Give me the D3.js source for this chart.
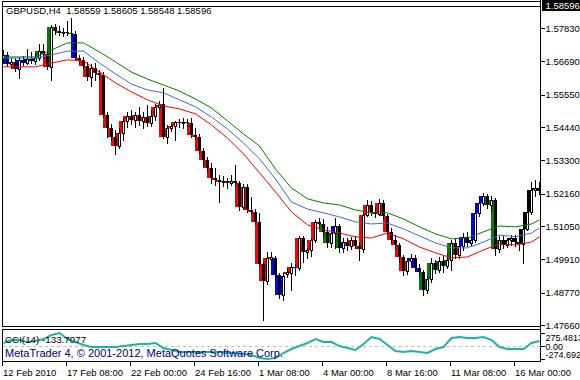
<!DOCTYPE html>
<html>
<head>
<meta charset="utf-8">
<script src="https://cdn.jsdelivr.net/npm/d3@7"></script>
<style>
  body { margin: 0; background: #fff; }
  svg { display: block; }
  text { font-family: "Liberation Sans", Arial, sans-serif; white-space: pre; }
</style>
</head>
<body>
<svg id="chart"></svg>
<script>
// GBPUSD H4 bars, prices in pips (price x 10000), one entry per bar
const opens = [15680,15691,15660,15667,15643,15674,15663,15677,15670,15680,15704,15694,15650,15787,15773,15766,15769,15766,15763,15680,
  15674,15653,15615,15646,15629,15622,15485,15441,15410,15379,15424,15465,15482,15468,15485,15465,15478,15458,15482,15513,
  15523,15410,15441,15448,15461,15458,15461,15458,15417,15410,15362,15331,15304,15270,15263,15256,15259,15252,15259,15252,
  15170,15239,15160,15153,15119,14975,14917,14992,14996,14937,14869,14941,14944,14965,14961,15064,15016,15023,15057,15119,
  15112,15085,15047,15081,15105,15030,15050,15037,15057,15037,15026,15143,15177,15153,15146,15184,15139,15085,15057,15040,
  14999,14951,14985,14996,14961,14948,14886,14924,14978,14954,14985,14968,14989,15047,15006,15037,15068,15047,15057,15150,
  15184,15208,15177,15194,15026,15057,15040,15057,15064,15050,15044,15095,15153,15228,15235];
const highs = [15708,15701,15680,15680,15684,15687,15711,15701,15697,15728,15728,15708,15793,15797,15790,15783,15807,15817,15773,15691,
  15684,15667,15660,15663,15639,15632,15495,15454,15434,15441,15475,15495,15502,15495,15513,15495,15520,15502,15523,15533,
  15578,15451,15454,15465,15471,15475,15471,15475,15441,15420,15372,15341,15321,15304,15280,15276,15270,15280,15314,15259,
  15249,15249,15204,15163,15150,14982,15016,15016,15002,14944,14944,14961,14978,14975,15071,15071,15030,15064,15126,15133,
  15129,15102,15092,15133,15112,15064,15064,15068,15071,15050,15150,15194,15191,15170,15198,15194,15146,15098,15074,15047,
  15006,14996,15009,15006,14975,14954,14934,14996,14989,14999,15002,15009,15057,15064,15047,15081,15085,15071,15167,15204,
  15218,15215,15208,15201,15071,15071,15064,15074,15074,15071,15105,15167,15256,15263,15256];
const lows = [15667,15653,15646,15636,15612,15656,15660,15663,15660,15674,15680,15643,15605,15763,15759,15756,15759,15759,15674,15663,
  15646,15605,15584,15605,15608,15478,15410,15400,15352,15372,15400,15444,15454,15444,15451,15441,15448,15448,15468,15506,
  15406,15389,15430,15400,15444,15441,15448,15410,15403,15355,15311,15290,15252,15246,15187,15242,15235,15246,15242,15160,
  15163,15153,15146,15112,14968,14783,14907,14982,14927,14859,14852,14931,14886,14937,14954,14982,14996,15002,15050,15098,
  15071,15033,15033,15030,15016,15016,15023,15026,15030,14989,15016,15139,15143,15136,15143,15129,15074,15047,15026,14982,
  14937,14941,14975,14954,14934,14869,14876,14913,14944,14948,14948,14961,14954,14996,14996,15023,15037,15037,15050,15139,
  15177,15167,15156,15006,15016,15030,15033,15040,15037,15023,14978,15092,15146,15208,15215];
const closes = [15691,15660,15667,15643,15674,15663,15677,15670,15680,15704,15694,15650,15787,15773,15766,15769,15766,15763,15680,15674,
  15653,15615,15646,15629,15622,15485,15441,15410,15379,15424,15465,15482,15468,15485,15465,15478,15458,15482,15513,15520,
  15410,15441,15448,15461,15458,15461,15458,15417,15410,15362,15331,15304,15270,15263,15256,15259,15252,15259,15252,15170,
  15239,15160,15153,15119,14975,14917,14996,14999,14937,14869,14934,14948,14965,14961,15064,15016,15023,15057,15119,15112,
  15085,15047,15081,15105,15030,15050,15037,15057,15037,15026,15143,15177,15153,15146,15184,15139,15085,15057,15040,14999,
  14951,14985,14996,14961,14948,14886,14924,14978,14954,14985,14968,14989,15047,15006,15037,15068,15047,15057,15150,15184,
  15208,15177,15194,15026,15057,15040,15057,15064,15050,15044,15095,15153,15228,15235,15225];
// colour of the band-position histogram per bar: r below red band, b between, g above green band
const barColors = "bbbrbbbbbgbrggggggbr" + "rrrrrrrrrrrrrrrrrrrr" + "rrrrrrrrrrrrrrrrrrrr" + "rrrrrrrrbbbrrbrrrrrr" +
  "gggbgbrrrrrrrrrrrrrr" + "rrbbbgggggggggrbbbbb" + "bggggg";

// bands, read every 4 bars (pips)
const bandBars = [0,4,8,12,16,20,24,28,32,36,40,44,48,52,56,60,64,68,72,76,80,84,88,92,96,100,104,108,112,116,120,124,128,132,134];
const upperBand = [15684,15684,15684,15708,15732,15732,15701,15667,15632,15608,15588,15567,15540,15509,15465,15420,15379,15300,15235,15198,
  15184,15177,15160,15150,15150,15129,15102,15078,15061,15064,15085,15105,15102,15112,15126];
const midBand = [15680,15680,15680,15691,15704,15704,15663,15626,15591,15571,15561,15537,15513,15478,15437,15389,15335,15266,15187,15163,
  15150,15136,15119,15112,15115,15095,15071,15047,15030,15030,15050,15074,15068,15081,15098];
const lowerBand = [15650,15650,15650,15663,15674,15670,15632,15595,15564,15537,15516,15506,15489,15451,15406,15352,15287,15222,15153,15109,
  15092,15081,15068,15064,15081,15061,15033,15013,14996,14999,15023,15044,15040,15050,15068];

// CCI(14), read every 2 bars
const cciBars = d3.range(0, 135, 2);
const cciValues = [63,127,127,85,106,148,233,275,148,85,21,-21,-21,-21,-21,0,21,42,42,63,
  -42,-85,-127,-127,-127,-127,-127,-127,-148,-148,-169,-190,-254,-275,-254,-148,-63,0,63,148,
  85,85,0,-42,-85,42,190,148,21,-106,-127,-106,-127,-148,-63,-21,169,190,169,169,
  190,127,-21,-63,-63,-63,63,106];

const priceTicks = [1.57830,1.56690,1.55550,1.54440,1.53300,1.52160,1.51050,1.49910,1.48770,1.47660];
const cciTicks = [275.4813, 0, -274.692];
const cciTickLabels = ["275.4813", "0.00", "-274.692"];
const timeTickBars = [0,16,32,48,64,80,96,112,128];
const timeLabels = ["12 Feb 2010","17 Feb 08:00","22 Feb 00:00","24 Feb 16:00","1 Mar 08:00","4 Mar 00:00","8 Mar 16:00","11 Mar 08:00","16 Mar 00:00"];
const bidPrice = 1.58596;
const header = "GBPUSD,H4  1.58559 1.58605 1.58548 1.58596";

const W = 580, H = 380;
const main = { left: 3, right: 541, top: 2, bottom: 327 };
const sub = { top: 330, bottom: 362 };
const fill = { r: "#ff0000", b: "#0000ff", g: "#008000" };
const fs = "9.5px";

const svg = d3.select("#chart").attr("width", W).attr("height", H)
  .style("shape-rendering", "crispEdges");

const x = d3.scaleLinear().domain([0, 134.5]).range([main.left, main.right]);
const y = d3.scaleLinear().domain([1.5783, 1.4766]).range([28, 325]);
const yc = d3.scaleLinear().domain([-274.692, 275.4813]).range([359, 333]);
const px = v => v / 10000;

svg.append("clipPath").attr("id", "clipMain")
  .append("rect").attr("x", main.left).attr("y", main.top)
  .attr("width", main.right - main.left).attr("height", main.bottom - main.top);
svg.append("clipPath").attr("id", "clipSub")
  .append("rect").attr("x", main.left).attr("y", sub.top)
  .attr("width", main.right - main.left).attr("height", sub.bottom - sub.top);

const bars = closes.map((c, i) => ({
  i, o: px(opens[i]), h: px(highs[i]), l: px(lows[i]), c: px(c), col: barColors[i]
}));

const plot = svg.append("g").attr("clip-path", "url(#clipMain)");

// bid line
plot.append("line")
  .attr("x1", main.left).attr("x2", main.right)
  .attr("y1", Math.round(y(bidPrice)) + 0.5).attr("y2", Math.round(y(bidPrice)) + 0.5)
  .attr("stroke", "#000");

// band-position histogram, behind the candles
plot.selectAll(".hist")
  .data(bars)
  .enter()
  .append("rect")
  .attr("class", "hist")
  .attr("x", d => x(d.i) - 4)
  .attr("y", d => Math.round(y(Math.max(d.o, d.c))))
  .attr("width", 3)
  .attr("height", d => Math.max(1, Math.round(y(Math.min(d.o, d.c))) - Math.round(y(Math.max(d.o, d.c)))))
  .attr("fill", d => fill[d.col]);

// wicks
plot.selectAll(".wick")
  .data(bars)
  .enter()
  .append("line")
  .attr("class", "wick")
  .attr("x1", d => x(d.i) + 0.5).attr("x2", d => x(d.i) + 0.5)
  .attr("y1", d => Math.round(y(d.h))).attr("y2", d => Math.round(y(d.l)) + 1)
  .attr("stroke", "#000");

// bodies: bull = white with outline, bear = black
plot.selectAll(".body")
  .data(bars)
  .enter()
  .append("rect")
  .attr("class", "body")
  .attr("x", d => d.c >= d.o ? x(d.i) - 0.5 : x(d.i) - 1)
  .attr("y", d => Math.round(y(Math.max(d.o, d.c))) + (d.c >= d.o ? 0.5 : 0))
  .attr("width", d => d.c >= d.o ? 2 : 3)
  .attr("height", d => Math.max(d.c >= d.o ? 0 : 1,
    Math.round(y(Math.min(d.o, d.c))) - Math.round(y(Math.max(d.o, d.c)))))
  .attr("fill", d => d.c >= d.o ? "#fff" : "#000")
  .attr("stroke", d => d.c >= d.o ? "#000" : "none");

// band lines
const bandLine = d3.line()
  .x(d => x(d[0]) + 0.5)
  .y(d => y(px(d[1])));
[[upperBand, "#008000"], [midBand, "#4169e1"], [lowerBand, "#ff0000"]].forEach(([vals, color]) => {
  plot.append("path")
    .datum(bandBars.map((b, k) => [b, vals[k]]))
    .attr("d", bandLine)
    .attr("fill", "none")
    .attr("stroke", color)
    .attr("stroke-width", 1)
    .style("shape-rendering", "auto");
});

// frames
svg.append("rect")
  .attr("x", main.left - 0.5).attr("y", main.top - 0.5)
  .attr("width", main.right - main.left).attr("height", main.bottom - main.top)
  .attr("fill", "none").attr("stroke", "#000");
svg.append("rect")
  .attr("x", main.left - 0.5).attr("y", sub.top - 0.5)
  .attr("width", main.right - main.left).attr("height", sub.bottom - sub.top)
  .attr("fill", "none").attr("stroke", "#000");

// price axis
const axisR = svg.append("g");
axisR.selectAll(".ptick")
  .data(priceTicks)
  .enter()
  .append("line")
  .attr("x1", main.right).attr("x2", main.right + 4)
  .attr("y1", d => Math.round(y(d)) + 0.5).attr("y2", d => Math.round(y(d)) + 0.5)
  .attr("stroke", "#000");
axisR.selectAll(".plab")
  .data(priceTicks)
  .enter()
  .append("text")
  .attr("x", 545.5)
  .attr("y", d => y(d) + 3.5)
  .style("font-size", fs)
  .text(d => d.toFixed(5));

axisR.append("rect")
  .attr("x", 542).attr("y", 0).attr("width", 38).attr("height", 11)
  .attr("fill", "#000");
axisR.append("text")
  .attr("x", 545.5).attr("y", 9)
  .attr("fill", "#fff")
  .style("font-size", fs)
  .text(bidPrice.toFixed(5));

// header
svg.append("text")
  .attr("x", 6).attr("y", 14)
  .style("font-size", fs)
  .text(header);

// CCI window
const subG = svg.append("g").attr("clip-path", "url(#clipSub)");
subG.append("line")
  .attr("x1", main.left).attr("x2", main.right)
  .attr("y1", Math.round(yc(0)) + 0.5).attr("y2", Math.round(yc(0)) + 0.5)
  .attr("stroke", "#c0c0c0")
  .attr("stroke-dasharray", "3,3");
subG.append("path")
  .datum(cciBars.map((b, k) => [b, cciValues[k]]))
  .attr("d", d3.line().x(d => x(d[0]) + 0.5).y(d => yc(d[1])))
  .attr("fill", "none")
  .attr("stroke", "#20b2aa")
  .attr("stroke-width", 2)
  .style("shape-rendering", "auto");

svg.append("text")
  .attr("x", 5).attr("y", 343)
  .style("font-size", "9.8px")
  .text("CCI(14) -133.7077");
svg.append("text")
  .attr("x", 5).attr("y", 357)
  .attr("fill", "#000080")
  .style("font-size", "11px")
  .text("MetaTrader 4, \u00a9 2001-2012, MetaQuotes Software Corp.");

svg.selectAll(".ctick")
  .data(cciTicks)
  .enter()
  .append("line")
  .attr("x1", main.right).attr("x2", main.right + 4)
  .attr("y1", d => Math.round(yc(d)) + 0.5).attr("y2", d => Math.round(yc(d)) + 0.5)
  .attr("stroke", "#000");
svg.selectAll(".clab")
  .data(cciTicks)
  .enter()
  .append("text")
  .attr("x", 545.5)
  .attr("y", (d, k) => [340.5, 349.5, 358][k])
  .style("font-size", "9px")
  .text((d, k) => cciTickLabels[k]);

// right axis line
svg.append("line")
  .attr("x1", main.right - 0.5).attr("x2", main.right - 0.5)
  .attr("y1", 0).attr("y2", sub.bottom)
  .attr("stroke", "#000");

// time axis
svg.selectAll(".ttick")
  .data(timeTickBars)
  .enter()
  .append("line")
  .attr("x1", d => x(d) - 0.5).attr("x2", d => x(d) - 0.5)
  .attr("y1", sub.bottom).attr("y2", sub.bottom + 4)
  .attr("stroke", "#000");
svg.selectAll(".tlab")
  .data(timeTickBars)
  .enter()
  .append("text")
  .attr("x", d => x(d))
  .attr("y", 376)
  .style("font-size", fs)
  .text((d, k) => timeLabels[k]);
</script>
</body>
</html>
